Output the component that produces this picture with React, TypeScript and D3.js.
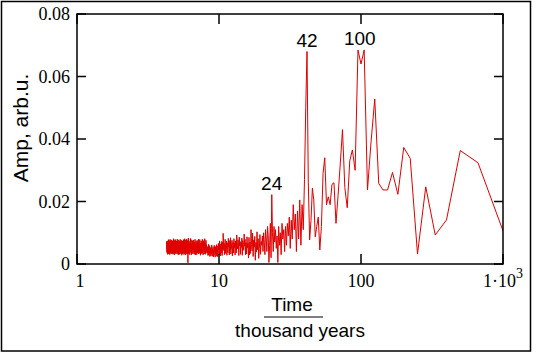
import { useRef, useEffect } from 'react';
import * as d3 from 'd3';

const WIDTH = 536;
const HEIGHT = 354;
const PLOT = { left: 77, right: 503, top: 14, bottom: 264 };

// spectrum harmonics: harmonic k has period RECORD_LENGTH / k (thousand years)
const RECORD_LENGTH = 2000;
const FIRST_HARMONIC = 2;

// amplitudes, in units of 1e-3 arb.u.
// k = 2 .. 48
const ampLowHarmonics = [
  10.6, 32.4, 36.3, 14.1, 9.3, 24.7, 3.2, 33.8, 37.3, 22.3, 29.3, 23.7, 23.7, 25.8, 52.8, 39,
  23.7, 68.5, 64, 68.5, 30, 36.5, 33, 18, 24.5, 43, 32, 22, 13, 26, 25.5, 19, 21.5, 19, 34, 29,
  12, 4.5, 15, 12, 8.7, 20.5, 24.3, 14, 7.7, 26, 68,
];
// k = 49 .. 100
const ampMidHarmonics = [
  50, 27, 11, 19, 6, 20.5, 8, 17, 4, 16, 11, 19, 8, 14, 5, 15, 9, 13, 6, 12,
  4, 11, 8, 13, 3, 10, 6, 12, 0.5, 9, 5, 11, 7, 12, 4, 10, 22.2, 2, 13, 6,
  0.5, 9, 12, 4, 8, 11, 3, 7, 10, 4, 9, 6,
];
// k = 101 .. 468
const ampHighHarmonics = [
  7.2, 3.1, 9.4, 5.0, 1.8, 8.1, 4.6, 10.3, 3.8, 6.9, 1.2, 8.8, 5.4, 7.7, 2.4, 9.9, 4.2, 6.3, 11.0, 3.4,
  7.0, 2.9, 8.5, 1.9, 6.6,
  5.1, 8.7, 3.2, 6.8, 2.9, 7.9, 5.7, 9.6, 4.4, 6.2, 7.5, 2.8, 8.3, 5.3, 6.9, 3.1, 7.2, 5.8, 8.6, 2.7,
  6.4, 7.8, 4.8, 6.0, 9.3, 3.6, 5.5, 7.4, 2.9, 6.7, 5.2, 8.1, 3.5, 7.0, 5.9, 2.6, 7.6, 5.0, 6.5, 3.2, 8.4,
  4.6, 7.5, 2.9, 6.3, 5.4, 8.2, 3.6, 5.9, 6.8, 2.8, 7.3, 5.0, 6.1, 3.4, 7.9, 5.2, 3.0, 6.6, 4.4, 7.4,
  9.8,
  4.3, 6.9, 2.7, 5.8, 7.2, 3.5, 5.5, 2.6, 6.4, 4.7, 7.4, 3.0, 5.9, 4.5, 6.6,
  3.1, 5.8, 2.4, 4.6, 3.7, 6.2, 2.5, 4.2, 3.4, 5.6, 2.2, 4.8, 3.9, 6.0, 2.8, 4.4, 2.3, 5.5, 3.6, 4.9,
  2.5, 4.0, 6.1, 3.3, 4.5, 2.6, 5.3, 3.8, 4.3, 2.4, 5.9, 3.5, 4.7, 2.9, 6.3, 4.1, 2.7, 5.2, 3.4, 5.6, 3.9, 5.0,
  6.2, 3.6, 7.6, 5.0, 3.1, 6.6, 4.8, 8.1, 5.6, 3.2, 6.9, 4.4, 5.8, 7.5, 2.9, 6.0, 5.2, 7.9, 3.5, 6.4,
  3.3, 5.5, 7.4, 4.6, 6.7, 2.8, 5.9, 4.9, 7.8, 5.1, 3.4, 6.3, 5.7, 8.0, 3.2, 6.1, 4.5, 7.2, 5.3, 3.6,
  7.6, 5.0, 3.0, 6.5, 4.7, 7.3, 5.4, 2.9, 6.2, 4.9, 7.9, 3.5, 5.8, 6.9, 3.1, 5.6, 4.4, 7.7, 5.1, 6.0,
  3.3, 6.6, 4.6, 7.5, 5.2, 3.3, 6.4, 5.7, 2.9, 7.8, 4.8, 6.1, 5.0, 8.2, 3.6, 5.5, 6.8, 3.0, 6.3, 4.5,
  7.4, 5.3, 3.4, 6.7, 8.3, 4.9,
  0.4,
  5.6, 3.2, 7.5, 4.4, 6.5, 5.0, 8.0, 3.3, 6.0, 4.7, 7.3, 5.4, 2.9, 7.7, 4.9, 6.2, 5.1, 8.1, 3.4, 5.8,
  7.1, 3.0, 6.1, 4.5, 7.8, 5.2, 3.6, 6.6, 5.5, 3.2, 7.4, 4.8, 6.3, 5.9, 2.8, 7.2, 4.6, 7.6, 5.0, 3.5,
  6.4, 5.7, 3.3, 7.9, 4.3, 6.0, 5.3, 7.3, 3.1, 5.6, 4.9, 7.5, 4.4, 6.2, 5.1, 2.9, 7.7, 5.4, 3.4, 6.5,
  4.7, 8.0, 5.8, 3.2, 6.1, 4.5, 7.2, 5.0, 7.4, 3.6, 5.5, 6.6, 3.3, 7.8, 4.8, 6.3, 5.2, 3.5, 7.3, 5.7,
  2.9, 7.6, 4.6, 6.0, 5.4, 8.1, 3.7, 5.9, 6.4, 3.1, 6.7, 4.9, 7.4, 5.1, 3.4, 6.2, 5.6, 3.2, 7.7, 4.4,
  6.5, 5.3, 4.1, 7.5, 3.3, 6.1, 5.0, 7.2, 3.6, 5.8, 7.9, 4.5, 6.3, 3.0, 7.3, 5.2, 3.5, 7.6, 5.5, 4.2,
  6.6, 3.2, 7.8, 4.6, 6.0, 5.4, 3.4, 7.1, 5.7, 3.1, 7.4, 4.9, 6.2, 5.1, 3.7, 7.2, 5.9,
];

const yTicks = [0, 0.02, 0.04, 0.06, 0.08];
const yTickLabels = ['0', '0.02', '0.04', '0.06', '0.08'];
const xTicks = [1, 10, 100, 1000];
const xTickLabels = ['1', '10', '100', '1\u00b710'];

const peakPeriods = [23.5, 41.67, 98];
const peakAmps = [0.0222, 0.068, 0.0685];
const peakTexts = ['24', '42', '100'];

const SERIF = '"Liberation Serif", "Times New Roman", serif';
const SANS = '"Liberation Sans", Arial, sans-serif';
const LINE_RED = '#e00000';

export default function App() {
  const svgRef = useRef<SVGSVGElement>(null);

  useEffect(() => {
    const svg = svgRef.current;
    if (!svg) return;

    const amps = [...ampLowHarmonics, ...ampMidHarmonics, ...ampHighHarmonics];
    const data = amps.map((a, i) => ({
      period: RECORD_LENGTH / (FIRST_HARMONIC + i),
      amp: a / 1000,
    }));

    const root = d3.select(svg);
    root.selectAll('*').remove();

    const xScale = d3.scaleLog().domain([1, 1000]).range([PLOT.left, PLOT.right]);
    const yScale = d3.scaleLinear().domain([0, 0.08]).range([PLOT.bottom, PLOT.top]);

    root.append('rect')
      .attr('width', WIDTH).attr('height', HEIGHT).attr('fill', '#fff');

    // outer border
    root.append('rect')
      .attr('x', 1.5).attr('y', 1.5)
      .attr('width', 529).attr('height', 349.5)
      .attr('fill', 'none').attr('stroke', '#000').attr('stroke-width', 1.5);

    root.append('clipPath').attr('id', 'plot-clip')
      .append('rect')
      .attr('x', PLOT.left).attr('y', PLOT.top)
      .attr('width', PLOT.right - PLOT.left).attr('height', PLOT.bottom - PLOT.top);

    // spectrum line
    const line = d3.line<{ period: number; amp: number }>()
      .x((d) => xScale(d.period))
      .y((d) => yScale(d.amp));

    root.append('path')
      .datum(data)
      .attr('clip-path', 'url(#plot-clip)')
      .attr('d', line)
      .attr('fill', 'none')
      .attr('stroke', LINE_RED)
      .attr('stroke-width', 1)
      .attr('stroke-linejoin', 'miter');

    // plot frame
    root.append('rect')
      .attr('x', PLOT.left).attr('y', PLOT.top)
      .attr('width', PLOT.right - PLOT.left).attr('height', PLOT.bottom - PLOT.top)
      .attr('fill', 'none').attr('stroke', '#000').attr('stroke-width', 1.5);

    // y ticks, both sides
    yTicks.forEach((t, i) => {
      const y = yScale(t);
      root.append('line')
        .attr('x1', PLOT.left).attr('x2', PLOT.left + 9)
        .attr('y1', y).attr('y2', y)
        .attr('stroke', '#000').attr('stroke-width', 1.5);
      root.append('line')
        .attr('x1', PLOT.right - 9).attr('x2', PLOT.right)
        .attr('y1', y).attr('y2', y)
        .attr('stroke', '#000').attr('stroke-width', 1.5);
      root.append('text')
        .attr('x', PLOT.left - 7)
        .attr('y', y + 6)
        .attr('text-anchor', 'end')
        .attr('font-family', SERIF)
        .attr('font-size', '18px')
        .attr('fill', '#000')
        .text(yTickLabels[i]);
    });

    // x ticks, bottom and top
    xTicks.forEach((t, i) => {
      const x = xScale(t);
      root.append('line')
        .attr('x1', x).attr('x2', x)
        .attr('y1', PLOT.bottom).attr('y2', PLOT.bottom - 10)
        .attr('stroke', '#000').attr('stroke-width', 1.5);
      root.append('line')
        .attr('x1', x).attr('x2', x)
        .attr('y1', PLOT.top).attr('y2', PLOT.top + 10)
        .attr('stroke', '#000').attr('stroke-width', 1.5);
      const label = root.append('text')
        .attr('x', i === 0 ? x + 3 : x)
        .attr('y', PLOT.bottom + 23)
        .attr('text-anchor', 'middle')
        .attr('font-family', SERIF)
        .attr('font-size', '18px')
        .attr('fill', '#000')
        .text(xTickLabels[i]);
      if (i === xTicks.length - 1) {
        label.append('tspan')
          .attr('dy', -9)
          .attr('font-size', '14px')
          .text('3');
      }
    });

    // peak annotations
    peakTexts.forEach((txt, i) => {
      root.append('text')
        .attr('x', xScale(peakPeriods[i]))
        .attr('y', yScale(peakAmps[i]) - 5)
        .attr('text-anchor', 'middle')
        .attr('font-family', SANS)
        .attr('font-size', '19px')
        .attr('fill', '#000')
        .text(txt);
    });

    // y axis title
    root.append('text')
      .attr('transform', 'translate(28,128) rotate(-90)')
      .attr('text-anchor', 'middle')
      .attr('font-family', SANS)
      .attr('font-size', '21px')
      .attr('fill', '#000')
      .text('Amp, arb.u.');

    // x axis title as a fraction
    root.append('text')
      .attr('x', 292).attr('y', 311)
      .attr('text-anchor', 'middle')
      .attr('font-family', SANS)
      .attr('font-size', '19px')
      .attr('fill', '#000')
      .text('Time');
    root.append('line')
      .attr('x1', 264).attr('x2', 323)
      .attr('y1', 317).attr('y2', 317)
      .attr('stroke', '#000').attr('stroke-width', 1.2);
    root.append('text')
      .attr('x', 300).attr('y', 337)
      .attr('text-anchor', 'middle')
      .attr('font-family', SANS)
      .attr('font-size', '19px')
      .attr('fill', '#000')
      .text('thousand years');
  }, []);

  return (
    <svg
      ref={svgRef}
      width={WIDTH}
      height={HEIGHT}
      viewBox={`0 0 ${WIDTH} ${HEIGHT}`}
      style={{ position: 'absolute', left: 0, top: 0, display: 'block' }}
    />
  );
}
